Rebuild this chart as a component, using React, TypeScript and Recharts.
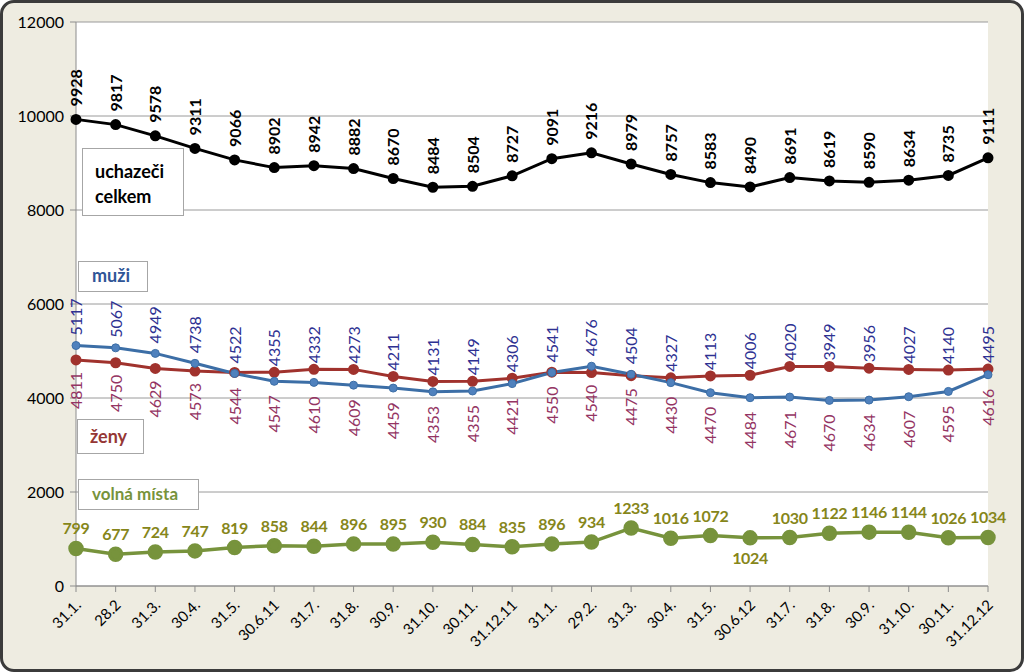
import { LineChart, Line, XAxis, YAxis, CartesianGrid } from "recharts";

const categories = [
  "31.1.", "28.2", "31.3.", "30.4.", "31.5.", "30.6.11", "31.7.", "31.8.", "30.9.", "31.10.", "30.11.", "31.12.11",
  "31.1.", "29.2.", "31.3.", "30.4.", "31.5.", "30.6.12", "31.7.", "31.8.", "30.9.", "31.10.", "30.11.", "31.12.12"
];
const celkem = [9928, 9817, 9578, 9311, 9066, 8902, 8942, 8882, 8670, 8484, 8504, 8727, 9091, 9216, 8979, 8757, 8583, 8490, 8691, 8619, 8590, 8634, 8735, 9111];
const muzi = [5117, 5067, 4949, 4738, 4522, 4355, 4332, 4273, 4211, 4131, 4149, 4306, 4541, 4676, 4504, 4327, 4113, 4006, 4020, 3949, 3956, 4027, 4140, 4495];
const zeny = [4811, 4750, 4629, 4573, 4544, 4547, 4610, 4609, 4459, 4353, 4355, 4421, 4550, 4540, 4475, 4430, 4470, 4484, 4671, 4670, 4634, 4607, 4595, 4616];
const volna = [799, 677, 724, 747, 819, 858, 844, 896, 895, 930, 884, 835, 896, 934, 1233, 1016, 1072, 1024, 1030, 1122, 1146, 1144, 1026, 1034];
const yTicks = [0, 2000, 4000, 6000, 8000, 10000, 12000];

const data = categories.map((c, i) => ({
  key: `${c}#${i}`,
  celkem: celkem[i],
  muzi: muzi[i],
  zeny: zeny[i],
  volna: volna[i]
}));

const FONT = "Lato, 'Open Sans', sans-serif";
const TOP = 22;
const PLOT_H = 564;
const PX = PLOT_H / 12000;

const boxStyle = {
  position: "absolute" as const,
  background: "#fff",
  border: "1.5px solid #a6a6a6",
  fontFamily: FONT,
  fontWeight: 700,
  boxSizing: "border-box" as const
};

const celkemLabel = (p: any) => {
  const x = p.x + 6;
  const y = p.y - 13;
  return (
    <text x={x} y={y} transform={`rotate(-90 ${x} ${y})`} textAnchor="start"
      fontFamily={FONT} fontWeight={700} fontSize={16} fill="#000">
      {p.value}
    </text>
  );
};

const muziLabel = (p: any) => {
  const i = p.index;
  const zenyY = p.y + (muzi[i] - zeny[i]) * PX;
  const x = p.x + 6;
  const y = Math.min(p.y - 10, zenyY - 6);
  return (
    <text x={x} y={y} transform={`rotate(-90 ${x} ${y})`} textAnchor="start"
      fontFamily={FONT} fontSize={16} fill="#2e3192">
      {p.value}
    </text>
  );
};

const zenyLabel = (p: any) => {
  const i = p.index;
  const muziY = p.y + (zeny[i] - muzi[i]) * PX;
  const x = p.x + 6;
  const y = Math.max(p.y + 12, muziY + 14);
  return (
    <text x={x} y={y} transform={`rotate(-90 ${x} ${y})`} textAnchor="end"
      fontFamily={FONT} fontSize={16} fill="#943463">
      {p.value}
    </text>
  );
};

const volnaLabel = (p: any) => {
  // 30.6.12 sits below its point in the original
  const below = p.index === 17;
  return (
    <text x={p.x} y={below ? p.y + 26 : p.y - 14} textAnchor="middle"
      fontFamily={FONT} fontWeight={700} fontSize={16} letterSpacing={-0.3} fill="#86861a">
      {p.value}
    </text>
  );
};

const XTick = (p: any) => {
  const x = p.x + 6;
  const y = p.y + 12;
  return (
    <text x={x} y={y} transform={`rotate(-45 ${x} ${y})`} textAnchor="end"
      fontFamily={FONT} fontSize={15} fill="#000">
      {categories[p.index]}
    </text>
  );
};

export default function App() {
  return (
    <div style={{ position: "absolute", left: 0, top: 0, width: 1024, height: 672 }}>
      <div style={{
        position: "absolute", inset: 0, background: "#eeece1",
        border: "3px solid #3b3b3b", borderRadius: 14, boxSizing: "border-box"
      }} />
      <div style={{ position: "absolute", left: 0, top: 0 }}>
        <LineChart width={1024} height={672} data={data}
          margin={{ top: TOP, right: 36, bottom: 0, left: 0 }}>
          <CartesianGrid vertical={false} stroke="#9a9a9a" fill="#fff" />
          <XAxis dataKey="key" interval={0} height={86} stroke="#8c8c8c"
            tickSize={6} tick={<XTick />} />
          <YAxis domain={[0, 12000]} ticks={yTicks} width={76} stroke="#8c8c8c"
            tickSize={6} tickMargin={6}
            tick={{ fontFamily: FONT, fontSize: 16, fill: "#000" }} />
          <Line dataKey="celkem" stroke="#000" strokeWidth={3} isAnimationActive={false}
            dot={{ r: 4, fill: "#000", stroke: "#000" }} label={celkemLabel} />
          <Line dataKey="zeny" stroke="#a0322d" strokeWidth={3} isAnimationActive={false}
            dot={{ r: 4, fill: "#a0322d", stroke: "#a0322d" }} label={zenyLabel} />
          <Line dataKey="muzi" stroke="#3c6ea6" strokeWidth={3} isAnimationActive={false}
            dot={{ r: 4, fill: "#4f81bd", stroke: "#3c6ea6", strokeWidth: 1 }} label={muziLabel} />
          <Line dataKey="volna" stroke="#77933c" strokeWidth={3.5} isAnimationActive={false}
            dot={{ r: 6, fill: "#77933c", stroke: "#77933c" }} label={volnaLabel} />
        </LineChart>
      </div>
      <div style={{ ...boxStyle, left: 82, top: 148, width: 102, height: 68, padding: "10px 0 0 12px", fontSize: 18, lineHeight: "25px", color: "#000" }}>
        uchazeči<br />celkem
      </div>
      <div style={{ ...boxStyle, left: 78, top: 261, width: 70, height: 31, padding: "2px 0 0 13px", fontSize: 18, color: "#2f5597" }}>
        muži
      </div>
      <div style={{ ...boxStyle, left: 77, top: 419, width: 67, height: 35, padding: "5px 0 0 12px", fontSize: 18, color: "#953735" }}>
        ženy
      </div>
      <div style={{ ...boxStyle, left: 78, top: 479, width: 121, height: 31, padding: "3px 0 0 13px", fontSize: 17, color: "#77933c" }}>
        volná místa
      </div>
    </div>
  );
}
